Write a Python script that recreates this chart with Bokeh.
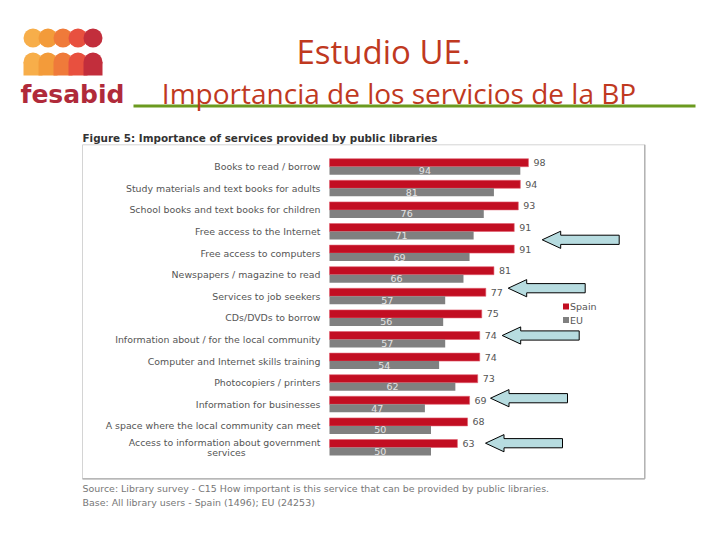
from bokeh.plotting import figure
from bokeh.models import Range1d, ColumnDataSource, Label
from bokeh.transform import dodge
from bokeh.core.properties import value
from bokeh.embed import file_html
from bokeh.resources import INLINE

# ---------------- data ----------------
categories = [
    "Books to read / borrow",
    "Study materials and text books for adults",
    "School books and text books for children",
    "Free access to the Internet",
    "Free access to computers",
    "Newspapers / magazine to read",
    "Services to job seekers",
    "CDs/DVDs to borrow",
    "Information about / for the local community",
    "Computer and Internet skills training",
    "Photocopiers / printers",
    "Information for businesses",
    "A space where the local community can meet",
    "Access to information about government services",
]
spain = [98, 94, 93, 91, 91, 81, 77, 75, 74, 74, 73, 69, 68, 63]
eu = [94, 81, 76, 71, 69, 66, 57, 56, 57, 54, 62, 47, 50, 50]
series_names = ["Spain", "EU"]

# ---------------- layout ----------------
W, H = 704, 524
OFF = 0         # page offset of the canvas in the screenshot
PXU = 2.03      # px per value unit
X0 = 329 - OFF  # canvas px of value 0
ROW = 21.6      # px per category row
Y0 = 166.2 - OFF  # canvas px of first row centre

RED = "#C20E22"
GREY = "#808080"


def fx(img_x):
    return (img_x - OFF - X0) / PXU


def fy(img_y):
    return (Y0 - (img_y - OFF)) / ROW


p = figure(width=W, height=H, output_backend="svg", toolbar_location=None,
           x_range=Range1d(-X0 / PXU, (W - X0) / PXU),
           y_range=Range1d(-(H - Y0) / ROW, Y0 / ROW),
           x_axis_location=None, y_axis_location=None,
           min_border=0, outline_line_color=None,
           background_fill_color="white", border_fill_color="white")
p.grid.visible = False

rows = [-i for i in range(len(categories))]

# chart box
bx0, by0, bx1, by1 = fx(82), fy(144.3), fx(644.3), fy(478.3)
p.quad(left=[bx0], right=[bx1], top=[by0], bottom=[by1], fill_color=None,
       line_color="#d4d4d4", line_width=1)
p.segment(x0=[bx1, bx0], y0=[by0, by1], x1=[bx1, bx1], y1=[by1, by1],
          line_color="#a8a8a8", line_width=1.2)

# bars
src = ColumnDataSource(dict(row=rows, cat=categories, spain=spain, eu=eu,
                            eu_mid=[v / 2 for v in eu],
                            spain_lbl=[str(v) for v in spain],
                            eu_lbl=[str(v) for v in eu]))
BH = 8 / ROW
p.hbar(y=dodge("row", BH / 2, range=p.y_range), left=0, right="spain", height=BH,
       source=src, fill_color=RED, line_color="#E06070", line_width=0.6)
p.hbar(y=dodge("row", -BH / 2, range=p.y_range), left=0, right="eu", height=BH,
       source=src, fill_color=GREY, line_color=None)

# value labels
p.text(x=dodge("spain", 5 / PXU, range=p.x_range), y=dodge("row", BH / 2, range=p.y_range),
       text="spain_lbl", source=src, text_font=value("DejaVu Sans"),
       text_font_size=value("9.5px"), text_color="#555555",
       text_align="left", text_baseline="middle")
p.text(x="eu_mid", y=dodge("row", -BH / 2, range=p.y_range),
       text="eu_lbl", source=src, text_font=value("DejaVu Sans"),
       text_font_size=value("9.5px"), text_color="#e4e4e4",
       text_align="center", text_baseline="middle")

# category labels (long last one wraps onto two lines)
lab_x, lab_y, lab_t, lab_a = [], [], [], []
for r, c in zip(rows, categories):
    if c.startswith("Access to information"):
        first, second = c.rsplit(" ", 1)
        lab_x += [-9 / PXU, fx(226)]
        lab_y += [r + 5 / ROW, r - 5 / ROW]
        lab_t += [first, second]
        lab_a += ["right", "center"]
    else:
        lab_x.append(-9 / PXU)
        lab_y.append(r)
        lab_t.append(c)
        lab_a.append("right")
p.text(x=lab_x, y=lab_y, text=lab_t, text_align=lab_a,
       text_font=value("DejaVu Sans"), text_font_size=value("9.4px"),
       text_color="#555555", text_baseline="middle")

# legend
p.scatter(x=[fx(565.5)] * 2, y=[fy(306), fy(319.5)], marker="square", size=6,
          fill_color=[RED, GREY], line_color=None)
p.text(x=[fx(569.5)] * 2, y=[fy(306), fy(319.5)], text=series_names,
       text_font=value("DejaVu Sans"), text_font_size=value("9.5px"),
       text_color="#555555", text_baseline="middle", text_align="left")

# arrows (annotation)
arrow_tips = [(541.7, 239.3), (507.7, 287.7), (501.7, 335.0), (490.0, 397.7), (485.0, 442.7)]
LEN, HEAD, BHH, HHH = 77, 18.5, 4.6, 8.6
axs, ays = [], []
for tx, ty in arrow_tips:
    pts = [(0, 0), (HEAD, HHH), (HEAD, BHH), (LEN, BHH), (LEN, -BHH), (HEAD, -BHH), (HEAD, -HHH)]
    axs.append([fx(tx + dx) for dx, dy in pts])
    ays.append([fy(ty - dy) for dx, dy in pts])
p.patches(xs=axs, ys=ays, fill_color="#B7DCE0", line_color="black", line_width=1)


# figure caption, sources, slide titles
def lab(text, x, y, size, color, bold=False, font="DejaVu Sans", align="left", baseline="middle"):
    p.add_layout(Label(x=x - OFF, y=H - (y - OFF), x_units="screen", y_units="screen",
                       text=text, text_font=font, text_font_size=size,
                       text_color=color, text_align=align, text_baseline=baseline,
                       text_font_style="bold" if bold else "normal"))


lab("Figure 5: Importance of services provided by public libraries", 82, 137.5, "10.4px", "#333333", bold=True)
lab("Source: Library survey - C15 How important is this service that can be provided by public libraries.",
    82, 487.5, "9.45px", "#777777")
lab("Base: All library users - Spain (1496); EU (24253)", 82, 501.5, "9.45px", "#777777")

lab("Estudio UE.", 383, 51, "33px", "#C0391F", font="Open Sans", align="center")
lab("Importancia de los servicios de la BP", 398.5, 92, "28px", "#C0391F", font="Open Sans",
    align="center")
p.segment(x0=[fx(133)], y0=[fy(105.5)], x1=[fx(695)], y1=[fy(105.5)],
          line_color="#6B9A1F", line_width=3.2)

# logo
logo_cols = ["#F7AE4A", "#F39B3A", "#EF7A3A", "#E8503F", "#C22E3C"]
cx = [32.5 + 15 * k for k in range(5)]
p.scatter(x=[fx(c) for c in cx], y=[fy(37.5)] * 5, size=19, fill_color=logo_cols, line_color=None)
p.scatter(x=[fx(c) for c in cx], y=[fy(61.5)] * 5, size=19, fill_color=logo_cols, line_color=None)
p.quad(left=[fx(c - 9.5) for c in cx], right=[fx(c + 9.5) for c in cx],
       top=[fy(61.5)] * 5, bottom=[fy(75)] * 5, fill_color=logo_cols, line_color=None)
lab("fesabid", 20, 94, "25px", "#B02A3A", bold=True, font="DejaVu Sans")

open("out.html", "w").write(file_html(p, INLINE))
